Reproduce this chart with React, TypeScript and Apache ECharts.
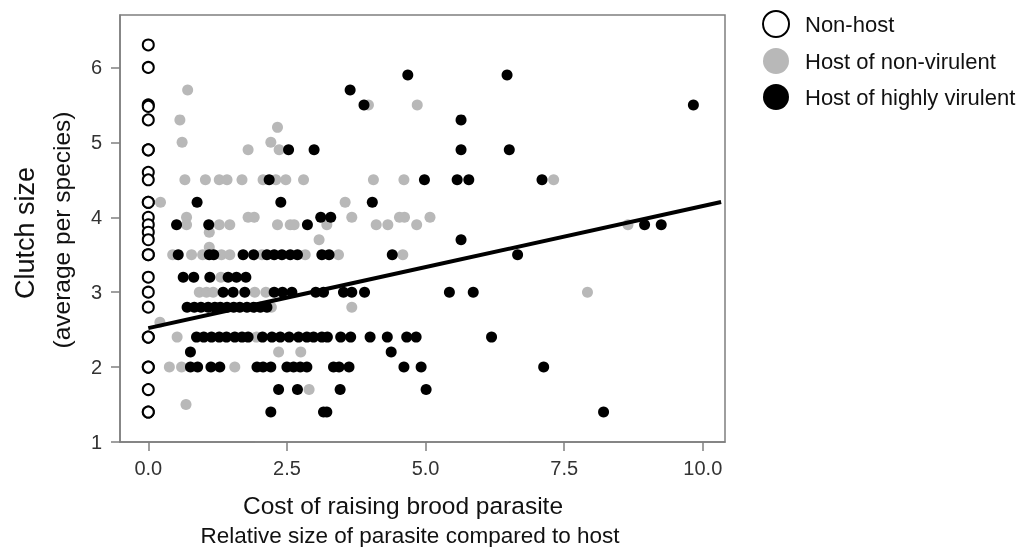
import React, { useEffect, useRef } from "react";
import * as echarts from "echarts";

const xTicks = [0, 2.5, 5, 7.5, 10];
const yTicks = [1, 2, 3, 4, 5, 6];

const nonHost: [number, number][] = [
  [0, 6.3], [0, 6.0], [0, 5.5], [0, 5.48], [0, 5.3], [0, 4.9], [0, 4.9], [0, 4.6], [0, 4.5],
  [0, 4.2], [0, 4.2], [0, 4.0], [0, 3.9], [0, 3.8], [0, 3.7], [0, 3.5], [0, 3.5], [0, 3.2],
  [0, 3.0], [0, 2.8], [0, 2.4], [0, 2.4], [0, 2.0], [0, 2.0], [0, 1.7], [0, 1.4], [0, 1.4],
];

const hostNonVirulent: [number, number][] = [
  [0.71, 5.7], [3.97, 5.5], [4.85, 5.5], [0.57, 5.3], [2.33, 5.2], [0.61, 5.0], [2.21, 5.0],
  [1.8, 4.9], [2.36, 4.9],
  [0.66, 4.5], [1.03, 4.5], [1.28, 4.5], [1.42, 4.5], [1.69, 4.5], [2.07, 4.5], [2.3, 4.5],
  [2.48, 4.5], [2.8, 4.5], [4.06, 4.5], [4.61, 4.5], [7.31, 4.5],
  [0.22, 4.2], [3.55, 4.2],
  [0.69, 4.0], [1.8, 4.0], [1.91, 4.0], [3.67, 4.0], [4.53, 4.0], [4.62, 4.0], [5.08, 4.0],
  [0.69, 3.9], [1.28, 3.9], [1.47, 3.9], [2.33, 3.9], [2.56, 3.9], [2.63, 3.9], [3.22, 3.9],
  [4.11, 3.9], [4.32, 3.9], [4.84, 3.9], [8.65, 3.9],
  [1.1, 3.8], [3.08, 3.7], [1.1, 3.6],
  [0.44, 3.5], [0.78, 3.5], [0.98, 3.5], [1.32, 3.5], [1.47, 3.5], [2.05, 3.5], [2.83, 3.5],
  [3.43, 3.5], [4.59, 3.5],
  [1.31, 3.2],
  [0.92, 3.0], [1.05, 3.0], [1.17, 3.0], [1.92, 3.0], [2.12, 3.0], [7.92, 3.0],
  [2.22, 2.8], [3.67, 2.8], [0.21, 2.6], [0.52, 2.4], [1.95, 2.4], [2.35, 2.2], [2.75, 2.2],
  [0.38, 2.0], [0.6, 2.0], [1.56, 2.0], [2.9, 1.7], [0.68, 1.5],
];

const hostVirulent: [number, number][] = [
  [4.68, 5.9], [6.47, 5.9], [3.64, 5.7], [3.89, 5.5], [9.83, 5.5], [5.64, 5.3],
  [2.53, 4.9], [2.99, 4.9], [5.64, 4.9], [6.51, 4.9],
  [2.18, 4.5], [4.98, 4.5], [5.57, 4.5], [5.78, 4.5], [7.1, 4.5],
  [0.88, 4.2], [2.39, 4.2], [4.04, 4.2], [3.11, 4.0], [3.29, 4.0],
  [0.51, 3.9], [1.09, 3.9], [2.87, 3.9], [8.95, 3.9], [9.25, 3.9], [5.64, 3.7],
  [0.54, 3.5], [1.1, 3.5], [1.18, 3.5], [1.71, 3.5], [1.9, 3.5], [2.14, 3.5], [2.27, 3.5],
  [2.41, 3.5], [2.56, 3.5], [2.69, 3.5], [3.13, 3.5], [3.26, 3.5], [4.4, 3.5], [6.66, 3.5],
  [0.63, 3.2], [0.82, 3.2], [1.11, 3.2], [1.44, 3.2], [1.59, 3.2], [1.76, 3.2],
  [1.35, 3.0], [1.53, 3.0], [1.74, 3.0], [2.27, 3.0], [2.42, 3.0], [2.59, 3.0], [3.02, 3.0],
  [3.16, 3.0], [3.52, 3.0], [3.67, 3.0], [3.9, 3.0], [5.43, 3.0], [5.86, 3.0],
  [0.7, 2.8], [0.83, 2.8], [0.95, 2.8], [1.08, 2.8], [1.2, 2.8], [1.3, 2.8], [1.42, 2.8],
  [1.54, 2.8], [1.65, 2.8], [1.78, 2.8], [1.9, 2.8], [2.02, 2.8], [2.14, 2.8],
  [0.87, 2.4], [1.0, 2.4], [1.14, 2.4], [1.28, 2.4], [1.41, 2.4], [1.56, 2.4], [1.69, 2.4],
  [1.8, 2.4], [2.06, 2.4], [2.23, 2.4], [2.38, 2.4], [2.54, 2.4], [2.71, 2.4], [2.86, 2.4],
  [2.98, 2.4], [3.13, 2.4], [3.23, 2.4], [3.47, 2.4], [3.65, 2.4], [4.0, 2.4], [4.31, 2.4],
  [4.66, 2.4], [4.83, 2.4], [6.19, 2.4],
  [0.76, 2.2], [4.38, 2.2],
  [0.76, 2.0], [0.89, 2.0], [1.13, 2.0], [1.29, 2.0], [1.96, 2.0], [2.07, 2.0], [2.21, 2.0],
  [2.5, 2.0], [2.62, 2.0], [2.74, 2.0], [2.86, 2.0], [3.34, 2.0], [3.44, 2.0], [3.62, 2.0],
  [4.61, 2.0], [4.92, 2.0], [7.13, 2.0],
  [2.35, 1.7], [2.69, 1.7], [3.46, 1.7], [5.01, 1.7],
  [2.21, 1.4], [3.16, 1.4], [3.22, 1.4], [8.21, 1.4],
];

const fitIntercept = 2.52;
const fitSlope = 0.163;
const fitRange = [0, 10.33];

const seriesNames = ["Non-host", "Host of non-virulent", "Host of highly virulent"];

const FONT = '"Liberation Sans", Arial, Helvetica, sans-serif';
const ELLIPSE = "path://M0,50 A50,50 0 1 1 100,50 A50,50 0 1 1 0,50 Z";

export default function App() {
  const ref = useRef<HTMLDivElement>(null);
  useEffect(() => {
    if (!ref.current) return;
    const chart = echarts.init(ref.current, undefined, { renderer: "svg" });
    const fitLine = fitRange.map((x) => [x, fitIntercept + fitSlope * x]);
    const axisGray = "#7f7f7f";
    chart.setOption({
      animation: false,
      textStyle: { fontFamily: FONT },
      grid: { left: 120, right: 300, top: 15, bottom: 105, show: true, borderColor: axisGray, borderWidth: 1.5, containLabel: false },
      legend: {
        orient: "vertical",
        left: 762,
        top: 10,
        itemWidth: 32,
        itemHeight: 26,
        itemGap: 10,
        padding: 0,
        textStyle: { fontSize: 22, color: "#111", fontFamily: FONT, padding: [0, 0, 0, 8] },
        data: seriesNames.map((n) => ({ name: n, icon: ELLIPSE })),
      },
      xAxis: {
        type: "value",
        min: -0.51,
        max: 10.4,
        splitLine: { show: false },
        axisLine: { show: true, onZero: false, lineStyle: { color: axisGray, width: 1.5 } },
        axisTick: { show: true, length: 9, customValues: xTicks, lineStyle: { color: axisGray, width: 1.5 } },
        axisLabel: {
          customValues: xTicks,
          formatter: (v: number) => v.toFixed(1),
          fontSize: 20,
          color: "#333",
          margin: 16,
          fontFamily: FONT,
        },
      },
      yAxis: {
        type: "value",
        min: 1,
        max: 6.7,
        splitLine: { show: false },
        axisLine: { show: true, onZero: false, lineStyle: { color: axisGray, width: 1.5 } },
        axisTick: { show: true, length: 9, customValues: yTicks, lineStyle: { color: axisGray, width: 1.5 } },
        axisLabel: { customValues: yTicks, fontSize: 20, color: "#333", margin: 18, fontFamily: FONT },
      },
      series: [
        {
          name: seriesNames[0],
          type: "scatter",
          data: nonHost,
          symbolSize: 11,
          itemStyle: { color: "#ffffff", borderColor: "#000000", borderWidth: 2, opacity: 1 },
          z: 2,
        },
        {
          name: seriesNames[1],
          type: "scatter",
          data: hostNonVirulent,
          symbolSize: 11,
          itemStyle: { color: "#b8b8b8", opacity: 1 },
          z: 3,
        },
        {
          name: seriesNames[2],
          type: "scatter",
          data: hostVirulent,
          symbolSize: 11,
          itemStyle: { color: "#000000", opacity: 1 },
          z: 4,
        },
        {
          name: "fit",
          type: "line",
          data: fitLine,
          symbol: "none",
          lineStyle: { color: "#000", width: 4 },
          z: 5,
          silent: true,
        },
      ],
      graphic: [
        {
          type: "text",
          x: 25,
          y: 233,
          rotation: Math.PI / 2,
          style: { text: "Clutch size", fontSize: 27, fontFamily: FONT, fill: "#111", align: "center", verticalAlign: "middle" },
        },
        {
          type: "text",
          x: 61,
          y: 230,
          rotation: Math.PI / 2,
          style: { text: "(average per species)", fontSize: 24.5, fontFamily: FONT, fill: "#111", align: "center", verticalAlign: "middle" },
        },
        {
          type: "text",
          x: 403,
          y: 505,
          style: { text: "Cost of raising brood parasite", fontSize: 24.5, fontFamily: FONT, fill: "#111", align: "center", verticalAlign: "middle" },
        },
        {
          type: "text",
          x: 410,
          y: 535,
          style: { text: "Relative size of parasite compared to host", fontSize: 22.5, fontFamily: FONT, fill: "#111", align: "center", verticalAlign: "middle" },
        },
      ],
    });
    return () => chart.dispose();
  }, []);
  return <div ref={ref} style={{ position: "fixed", left: 0, top: 0, width: 1025, height: 547 }} />;
}
